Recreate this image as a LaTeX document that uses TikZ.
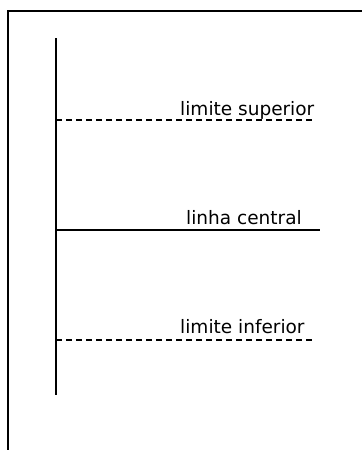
\documentclass[tikz,border=0pt]{standalone}
\usepackage{fontspec}
\setmainfont{DejaVu Sans}
\usetikzlibrary{positioning}
\tikzset{
  quadro/.style={line width=2pt},
  eixo/.style={line width=2pt},
  limite/.style={line width=1.5pt,dash pattern=on 6pt off 4pt},
  central/.style={line width=2pt},
  rotulo/.style={anchor=base west,inner sep=0pt,font=\fontsize{18.5}{22}\selectfont}
}
\begin{document}
\begin{tikzpicture}[x=1pt,y=-1pt]
\useasboundingbox (0,0) rectangle (362,450);
% moldura
\draw [quadro] (8,450) -- (8,11) -- (362,11);
% eixo vertical
\coordinate (topo) at (56,38);
\coordinate (base) at (56,395);
\draw [eixo] (topo) -- (base);
% linhas
\coordinate (ls0) at (56,120);
\coordinate (ls1) at (315,120);
\coordinate (lc0) at (56,230);
\coordinate (lc1) at (320,230);
\coordinate (li0) at (56,340);
\coordinate (li1) at (315,340);
\draw [limite] (ls0) -- (ls1);
\draw [central] (lc0) -- (lc1);
\draw [limite] (li0) -- (li1);
\node [rotulo] (sup) at (180,115) {limite superior};
\node [rotulo] (cen) at (186,224) {linha central};
\node [rotulo] (inf) at (180,333) {limite inferior};
\end{tikzpicture}
\end{document}
